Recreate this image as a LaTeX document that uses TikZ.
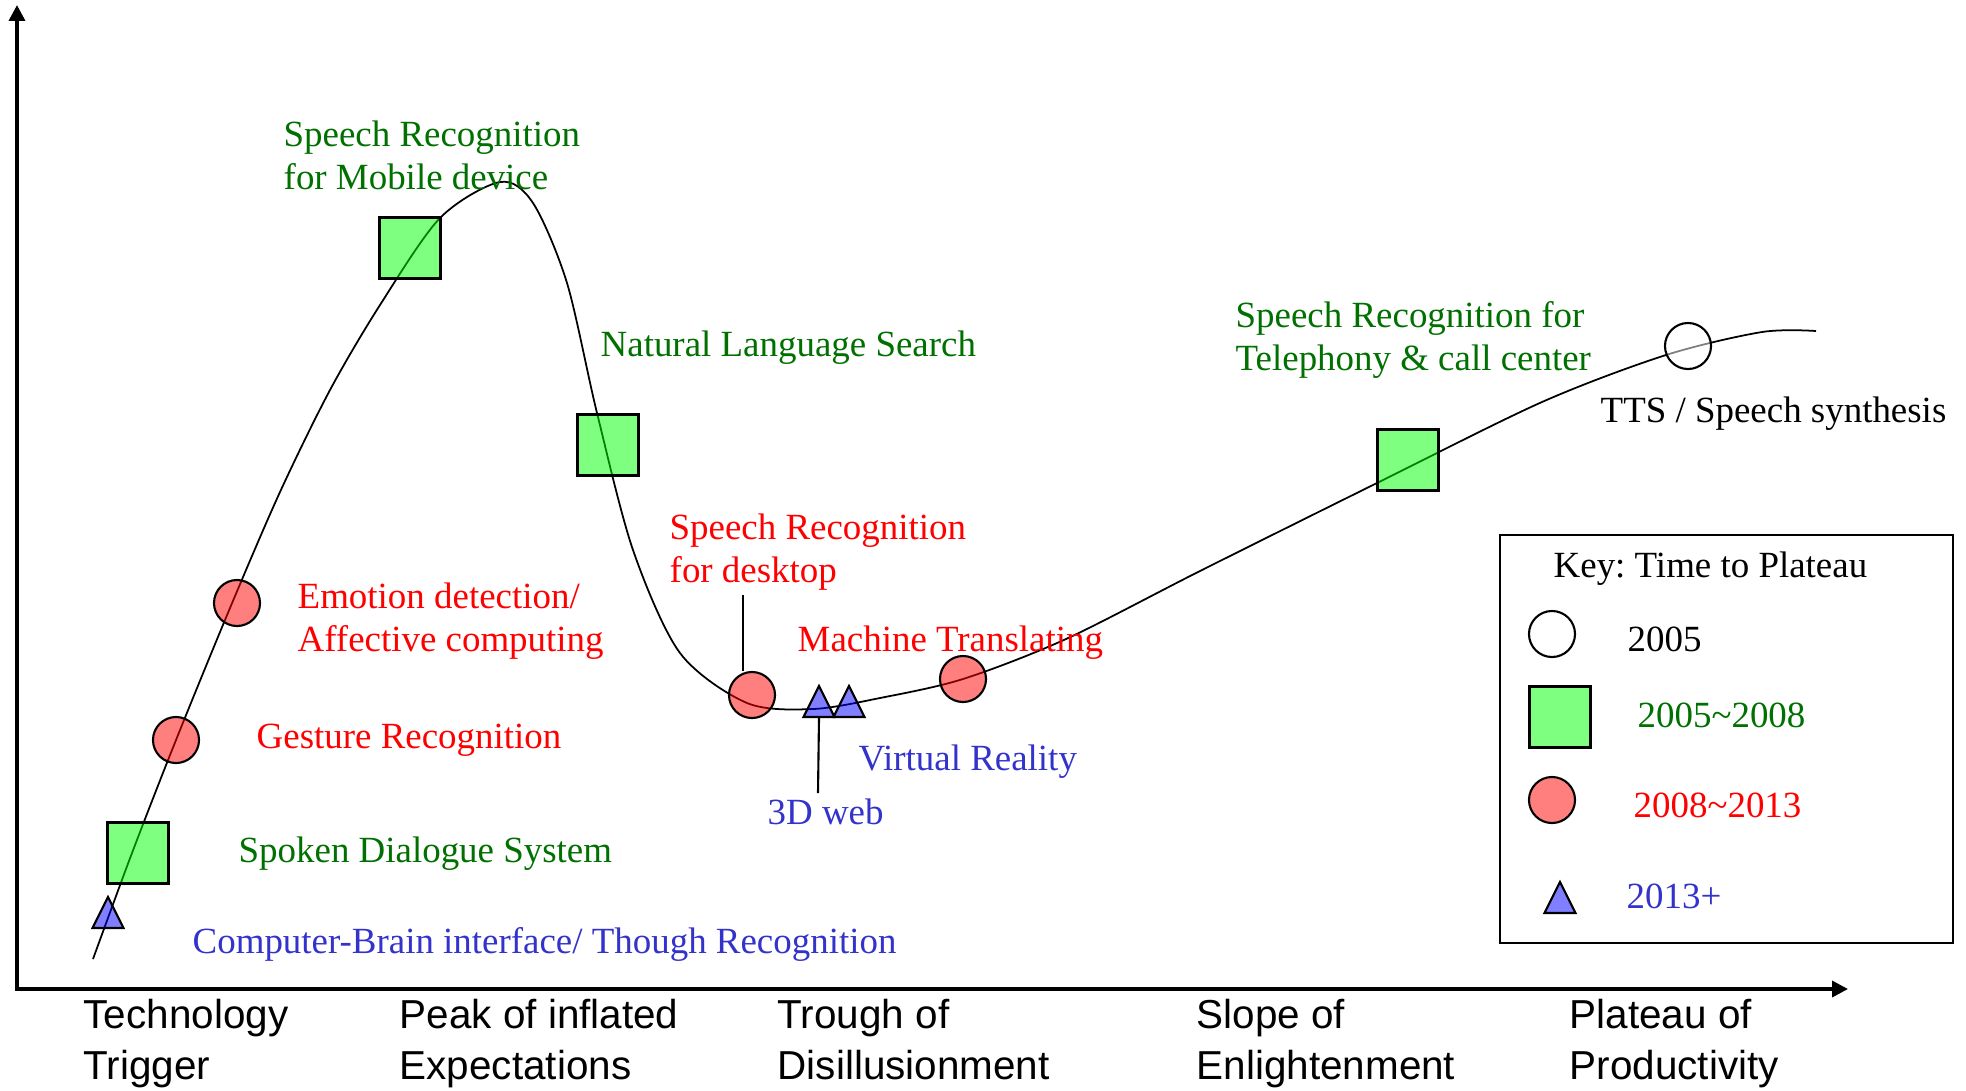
\documentclass[tikz,border=0pt]{standalone}
\usepackage{fontspec}
\setmainfont{Liberation Serif}
\newfontfamily\phasefont{Liberation Sans}
\usetikzlibrary{arrows.meta,shapes.geometric}
\frenchspacing

\definecolor{txtgreen}{RGB}{0,112,0}
\definecolor{txtred}{RGB}{255,0,0}
\definecolor{txtblue}{RGB}{51,51,204}

\tikzset{
  lbl/.style={inner sep=0pt, anchor=base west, align=left, font=\fontsize{10.5}{12.2}\selectfont},
  phase/.style={inner sep=0pt, anchor=base west, align=left, font=\phasefont\fontsize{11.5}{14.5}\selectfont},
  marker/.style={draw, line width=0.6pt, fill opacity=0.5, inner sep=0pt},
  sqmark/.style={marker, rectangle, fill=green, minimum size=0.61cm},
  circmark/.style={marker, circle, fill=red, minimum size=0.46cm},
  openmark/.style={marker, circle, fill=white, minimum size=0.46cm},
  trimark/.style={marker, isosceles triangle, isosceles triangle stretches, shape border rotate=90,
    fill=blue, minimum width=0.31cm, minimum height=0.31cm, anchor=south},
}

\begin{document}
\begin{tikzpicture}[x=0.01cm, y=-0.01cm]
	\useasboundingbox (0,0) rectangle (1966,1090);
	\draw[line width=1pt, {Triangle[length=4.5pt,width=4.5pt]}-{Triangle[length=4.5pt,width=4.5pt]}]
		(17,5) -- (17,989) -- (1848,989);

	% hype curve
	\draw[line width=0.5pt] plot [smooth] coordinates {(93,959) (132,853) (176,740) (230,608)
		(280,492) (330,390) (380,305) (440,218) (500,182) (533,203) (567,283) (597,413) (633,550)
		(680,653) (747,703) (813,709) (880,698) (963,679) (1066,639) (1200,571) (1377,483)
		(1542,402) (1666,355) (1762,332) (1816,331)};

	% markers on the curve
	\node[trimark] (brain) at (108,929) {};
	\node[sqmark] (spoken) at (138,853) {};
	\node[circmark] (gesture) at (176,740) {};
	\node[circmark] (emotion) at (237,603) {};
	\node[sqmark] (mobile) at (410,248) {};
	\node[sqmark] (natural) at (608,445) {};
	\node[circmark] (desktop) at (752,695) {};
	\node[trimark] (web) at (819,718) {};
	\node[trimark] (vr) at (849,718) {};
	\node[circmark] (machine) at (963,679) {};
	\node[sqmark] (telephony) at (1408,460) {};
	\node[openmark] (tts) at (1688,346) {};

	% labels (base = last line)
	\node[lbl, text=txtgreen] (mobiletxt) at (283,189) {Speech Recognition\\for Mobile device};
	\node[lbl, text=txtgreen] (naturaltxt) at (600,356) {Natural Language Search};
	\node[lbl, text=txtred] (desktoptxt) at (669,582) {Speech Recognition\\for desktop};
	\node[lbl, text=txtred] (emotiontxt) at (297,651) {Emotion detection/\\Affective computing};
	\node[lbl, text=txtred] (machinetxt) at (797,651) {Machine Translating};
	\node[lbl, text=txtred] (gesturetxt) at (256,748) {Gesture Recognition};
	\node[lbl, text=txtblue] (vrtxt) at (858,770) {Virtual Reality};
	\node[lbl, text=txtblue] (webtxt) at (767,824) {3D web};
	\node[lbl, text=txtgreen] (spokentxt) at (238,862) {Spoken Dialogue System};
	\node[lbl, text=txtblue] (braintxt) at (192,953) {Computer-Brain interface/ Though Recognition};
	\node[lbl, text=txtgreen] (telephonytxt) at (1235,370) {Speech Recognition for\\Telephony \& call center};
	\node[lbl] (ttstxt) at (1600,422) {TTS / Speech synthesis};

	% leader lines
	\coordinate (desktopend) at (743,595);
	\coordinate (webend) at (818,793);
	\draw[line width=0.6pt] (desktopend) -- (desktopend |- desktop.north);
	\draw[line width=0.6pt] (web.south) -- (webend);

	% key
	\draw[line width=0.8pt] (1500,535) rectangle (1953,943);
	\node[lbl] (keytxt) at (1553,577) {Key: Time to Plateau};
	\node[openmark] (key1) at (1552,634) {};
	\node[lbl] at (1627,651) {2005};
	\node[sqmark] (key2) at (1560,717) {};
	\node[lbl, text=txtgreen] at (1637,727) {2005\textasciitilde2008};
	\node[circmark] (key3) at (1552,800) {};
	\node[lbl, text=txtred] at (1633,817) {2008\textasciitilde2013};
	\node[trimark] (key4) at (1560,914) {};
	\node[lbl, text=txtblue] at (1626,908) {2013+};

	% phases
	\node[phase] (trigger) at (83,1079) {Technology\\Trigger};
	\node[phase] (peak) at (399,1079) {Peak of inflated\\Expectations};
	\node[phase] (trough) at (777,1079) {Trough of\\Disillusionment};
	\node[phase] (slope) at (1196,1079) {Slope of\\Enlightenment};
	\node[phase] (plateau) at (1569,1079) {Plateau of\\Productivity};
\end{tikzpicture}
\end{document}
